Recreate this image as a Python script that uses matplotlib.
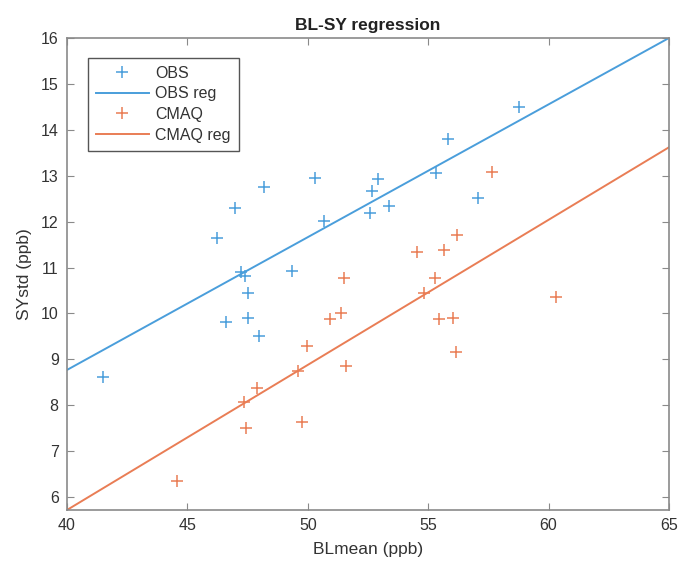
import numpy as np
import matplotlib
matplotlib.use("Agg")
import matplotlib.pyplot as plt

plt.rcParams['font.family'] = ['Liberation Sans', 'DejaVu Sans']

# OBS points (BLmean, SYstd)
obs_x = [41.5, 46.22, 46.98, 48.18, 50.31, 50.67, 47.21, 47.40, 47.50, 46.59, 47.50,
         47.97, 49.36, 58.77, 55.81, 55.32, 52.93, 52.65, 52.58, 53.37, 57.06]
obs_y = [8.62, 11.64, 12.29, 12.75, 12.96, 12.01, 10.91, 10.82, 10.45, 9.82, 9.91,
         9.51, 10.92, 14.50, 13.81, 13.07, 12.92, 12.67, 12.18, 12.33, 12.51]

# CMAQ points
cmaq_x = [44.55, 47.43, 47.36, 47.90, 49.77, 49.61, 49.95, 50.92, 51.37, 51.50, 51.57,
          54.52, 54.83, 55.28, 55.46, 55.66, 56.04, 56.14, 56.21, 57.66, 60.30]
cmaq_y = [6.35, 7.50, 8.08, 8.38, 7.63, 8.75, 9.29, 9.87, 10.02, 10.77, 8.86,
          11.33, 10.44, 10.78, 9.88, 11.38, 9.91, 9.16, 11.72, 13.09, 10.35]

# regression lines (value at x=40 and x=65)
reg_x = [40, 65]
obs_reg = [8.77, 16.0]
cmaq_reg = [5.72, 13.62]

c_obs = '#4a9edb'
c_cmaq = '#e97d55'

fig = plt.figure(figsize=(6.8, 5.72), dpi=100)
ax = fig.add_axes([0.0985, 0.1084, 0.8853, 0.8252])

ax.plot(obs_x, obs_y, '+', color=c_obs, ms=9, mew=1.1, label='OBS')
ax.plot(reg_x, obs_reg, '-', color=c_obs, lw=1.4, label='OBS reg')
ax.plot(cmaq_x, cmaq_y, '+', color=c_cmaq, ms=9, mew=1.1, label='CMAQ')
ax.plot(reg_x, cmaq_reg, '-', color=c_cmaq, lw=1.4, label='CMAQ reg')

ax.set_xlim(40, 65)
ax.set_ylim(cmaq_reg[0], 16)
ax.set_xticks(np.arange(40, 66, 5))
ax.set_yticks(np.arange(6, 17, 1))

for s in ax.spines.values():
    s.set_color('#8a8a8a')
    s.set_linewidth(1.2)
ax.tick_params(direction='in', top=True, right=True, length=5, width=0.8,
               color='#8a8a8a', labelsize=11.5, labelcolor='#333333', pad=6)

ax.set_xlabel('BLmean (ppb)', fontsize=12.5, color='#333333', labelpad=6)
ax.set_ylabel('SYstd (ppb)', fontsize=12.5, color='#333333', labelpad=6)
ax.set_title('BL-SY regression', fontsize=12.5, fontweight='bold', color='#222222', pad=6)

leg = ax.legend(loc='upper left', bbox_to_anchor=(0.035, 0.958), borderaxespad=0,
                fancybox=False, framealpha=1, edgecolor='#555555', fontsize=11.5,
                handlelength=3.3, labelspacing=0.35, borderpad=0.5, handletextpad=0.4)
leg.get_frame().set_linewidth(1.0)
for t in leg.get_texts():
    t.set_color('#333333')

fig.savefig('out.png', dpi=100)
